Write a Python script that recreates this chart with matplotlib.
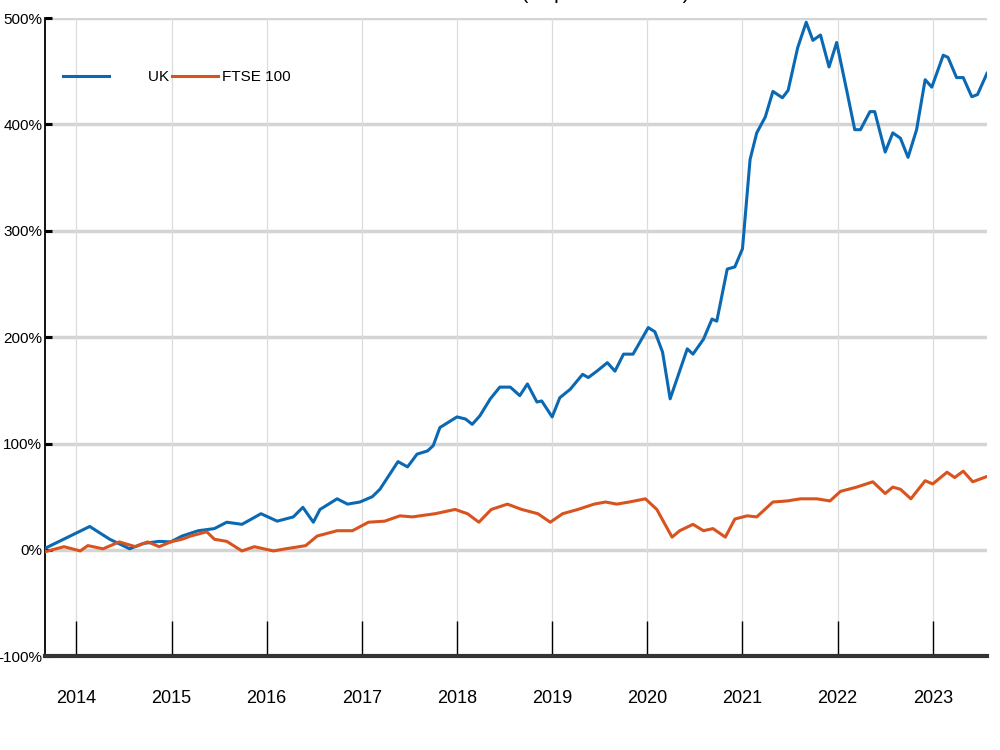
import matplotlib
matplotlib.use("Agg")
import matplotlib.pyplot as plt
from matplotlib.ticker import FuncFormatter

plt.rcParams['font.family'] = ['Liberation Sans', 'DejaVu Sans']

# cumulative return, %, x = decimal year
uk_years = [2013.66, 2014.14, 2014.35, 2014.56, 2014.70, 2014.87, 2014.99, 2015.11,
            2015.28, 2015.45, 2015.58, 2015.74, 2015.94, 2016.11, 2016.28, 2016.38,
            2016.49, 2016.56, 2016.74, 2016.85, 2016.98, 2017.11, 2017.19, 2017.38,
            2017.48, 2017.58, 2017.69, 2017.75, 2017.82, 2018.00, 2018.09, 2018.16,
            2018.24, 2018.35, 2018.45, 2018.56, 2018.66, 2018.74, 2018.84, 2018.89,
            2019.00, 2019.08, 2019.19, 2019.32, 2019.38, 2019.47, 2019.58, 2019.66,
            2019.75, 2019.85, 2020.01, 2020.08, 2020.16, 2020.24, 2020.42, 2020.48,
            2020.59, 2020.68, 2020.73, 2020.84, 2020.92, 2021.00, 2021.08, 2021.15,
            2021.24, 2021.32, 2021.42, 2021.48, 2021.58, 2021.67, 2021.74, 2021.82,
            2021.91, 2021.99, 2022.10, 2022.18, 2022.24, 2022.34, 2022.39, 2022.50,
            2022.58, 2022.66, 2022.74, 2022.83, 2022.92, 2022.99, 2023.11, 2023.16,
            2023.25, 2023.32, 2023.41, 2023.47, 2023.57]
uk_values = [1, 22, 10, 1, 6, 8, 7.5, 13,
             18, 20, 26, 24, 34, 27, 31, 40,
             26, 38, 48, 43, 45, 50, 57, 83,
             78, 90, 93, 98, 115, 125, 123, 118,
             126, 142, 153, 153, 145, 156, 139, 140,
             125, 143, 151, 165, 162, 168, 176, 168,
             184, 184, 209, 205, 186, 142, 189, 184,
             198, 217, 215, 264, 266, 283, 367, 392,
             407, 431, 425, 432, 472, 496, 479, 484,
             454, 477, 430, 395, 395, 412, 412, 374,
             392, 387, 369, 395, 442, 435, 465, 463,
             444, 444, 426, 428, 448]

ftse_years = [2013.66, 2013.87, 2014.04, 2014.12, 2014.28, 2014.45, 2014.62, 2014.75,
              2014.87, 2014.99, 2015.11, 2015.20, 2015.37, 2015.45, 2015.58, 2015.74,
              2015.87, 2016.07, 2016.20, 2016.41, 2016.53, 2016.74, 2016.90, 2017.07,
              2017.24, 2017.40, 2017.53, 2017.77, 2017.98, 2018.11, 2018.23, 2018.36,
              2018.53, 2018.68, 2018.85, 2018.98, 2019.11, 2019.27, 2019.44, 2019.56,
              2019.68, 2019.81, 2019.98, 2020.10, 2020.26, 2020.34, 2020.48, 2020.59,
              2020.69, 2020.82, 2020.92, 2021.05, 2021.15, 2021.32, 2021.47, 2021.61,
              2021.78, 2021.92, 2022.03, 2022.20, 2022.37, 2022.50, 2022.58, 2022.66,
              2022.77, 2022.92, 2023.00, 2023.15, 2023.23, 2023.32, 2023.42, 2023.57]
ftse_values = [-2, 3, -1, 4, 1, 7.5, 3, 7.5,
               3, 7.5, 10, 13, 17, 10, 8, -1,
               3, -1, 1, 4, 13, 18, 18, 26,
               27, 32, 31, 34, 38, 34, 26, 38,
               43, 38, 34, 26, 34, 38, 43, 45,
               43, 45, 48, 38, 12, 18, 24, 18,
               20, 12, 29, 32, 31, 45, 46, 48,
               48, 46, 55, 59, 64, 53, 59, 57,
               48, 65, 62, 73, 68, 74, 64, 69]

year_ticks = [2014, 2015, 2016, 2017, 2018, 2019, 2020, 2021, 2022, 2023]
pct_ticks = [-100, 0, 100, 200, 300, 400, 500]

fig = plt.figure(figsize=(10, 7.5), dpi=100)
ax = fig.add_axes([0.045, 0.125, 0.942, 0.851])

ax.plot(uk_years, uk_values, color='#0b69b3', lw=2.2, label='        UK', zorder=3)
ax.plot(ftse_years, ftse_values, color='#d9531e', lw=2.2, label='FTSE 100', zorder=3)

ax.set_xlim(2013.67, 2023.57)
ax.set_ylim(-100, 500)
ax.set_xticks(year_ticks)
ax.set_xticklabels([str(y) for y in year_ticks])
ax.set_yticks(pct_ticks)
ax.yaxis.set_major_formatter(FuncFormatter(lambda v, p: f'{v:.0f}%'))

# grid: thick light horizontals, thin verticals
for v in pct_ticks[1:]:
    ax.axhline(v, color='#d4d4d4', lw=2.5, zorder=1)
ax.grid(axis='x', color='#dcdcdc', lw=0.9, zorder=1)

for s in ['top', 'right']:
    ax.spines[s].set_visible(False)
ax.spines['left'].set_color('black')
ax.spines['left'].set_linewidth(1.3)
ax.spines['bottom'].set_color('#333333')
ax.spines['bottom'].set_linewidth(3)

ax.tick_params(axis='x', direction='in', length=25, width=1, color='black',
               pad=24, labelsize=13)
ax.tick_params(axis='y', direction='in', length=5, width=2.2, color='black',
               pad=2, labelsize=11)

ax.legend(loc='upper left', bbox_to_anchor=(0.005, 0.94), ncol=2, frameon=False,
          fontsize=11, handlelength=3.0, handletextpad=0.3, columnspacing=0.2)

fig.text(0.515, 1 + 1 / 750, 'Cumulative returns (Sep 2013 - 2023)',
         ha='center', va='baseline', fontsize=15)

fig.savefig('out.png', dpi=100)
